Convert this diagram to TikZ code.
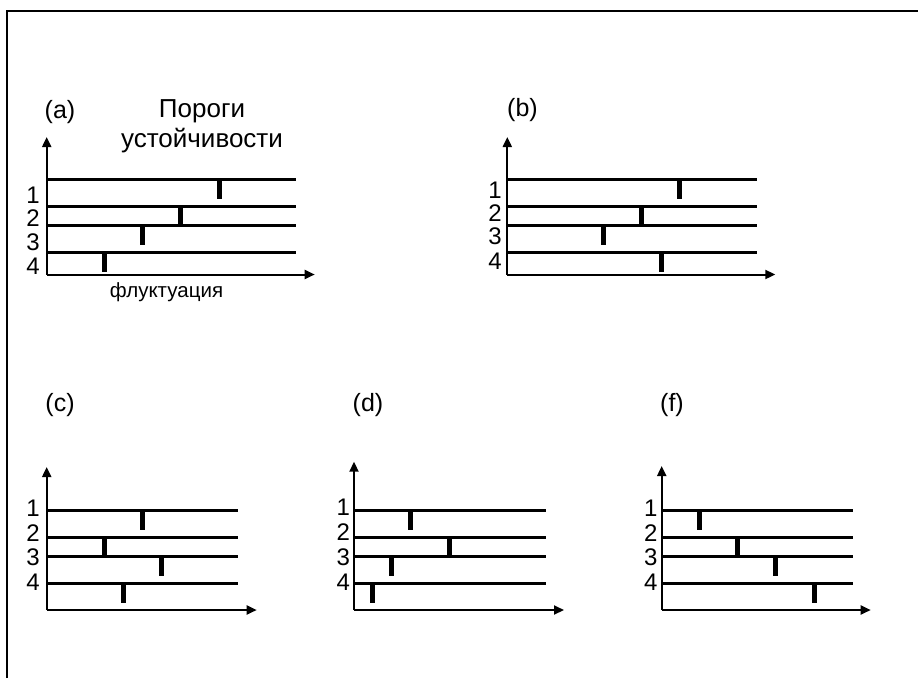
\documentclass[tikz,border=0pt]{standalone}
\usepackage{fontspec}
\setmainfont{Liberation Sans}
\usetikzlibrary{arrows.meta}
\tikzset{
  frameline/.style={line width=2.3pt, line cap=butt},
  axisline/.style={line width=2pt, -{Triangle[length=10pt,width=9pt]}},
  levelline/.style={line width=2.7pt},
  thrbar/.style={line width=5pt, line cap=butt},
  numlbl/.style={font=\fontsize{24}{26}\selectfont, inner sep=0pt},
  ttl/.style={font=\fontsize{25}{29.7}\selectfont, inner sep=0pt, align=center},
  bigttl/.style={font=\fontsize{26}{29.7}\selectfont, inner sep=0pt, align=center},
  small/.style={font=\fontsize{20.5}{24}\selectfont, inner sep=0pt}
}
% #1 prefix, #2 X0, #3 y of axis top, #4 y of x axis, #5 level length,
% #6 x-axis length, #7 list level-y/bar-offset, #8 label x, #9 label ys
\newcommand{\drawpanel}[9]{%
  \coordinate (#1o) at (#2,#4);
  \coordinate (#1top) at (#2,#3);
  \coordinate (#1right) at (#2+#6,#4);
  \draw[axisline] (#1o) -- (#1top);
  \draw[axisline] (#1o) -- (#1right);
  \foreach \ly/\tx [count=\i] in {#7} {
    \coordinate (#1s\i) at (#2,\ly);
    \coordinate (#1e\i) at (#2+#5,\ly);
    \coordinate (#1t\i) at (#2+\tx,\ly);
    \coordinate (#1u\i) at (#2+\tx,\ly+19.5);
    \draw[levelline] (#1s\i) -- (#1e\i);
    \draw[thrbar] (#1t\i) -- (#1u\i);
  }
  \foreach \yy [count=\i] in {#9} {
    \node[numlbl] (#1n\i) at (#8,\yy) {\i};
  }
}
\begin{document}
\begin{tikzpicture}[x=1pt,y=-1pt]
\useasboundingbox (0,0) rectangle (918,678);
% frame (only top and left sides visible)
\coordinate (fbl) at (7.3,678);
\coordinate (ftl) at (7.3,11);
\coordinate (ftr) at (918,11);
\draw[frameline] (fbl) -- (ftl) -- (ftr);

% panel (a)
\drawpanel{a}{46.7}{137}{274.5}{249.5}{268}
  {179.3/172.5, 206.7/134.2, 225.7/95.9, 252.7/57.6}{33}{195,218,242,266}
\node[ttl] (alab) at (60,112) {(a)};
\node[bigttl] (title) at (202,126) {Пороги\\устойчивости};
\node[small] (fluct) at (166.5,292) {флуктуация};

% panel (b)
\drawpanel{b}{507.3}{137}{274.5}{249.5}{268}
  {179.3/172.5, 206.7/134.2, 225.7/95.9, 252.7/153.7}{495}{190,213,236,261}
\node[ttl] (blab) at (522.5,110) {(b)};

% panel (c)
\drawpanel{c}{46.7}{467}{610}{191.5}{210}
  {510.7/95.6, 537.3/57.3, 556.7/115, 583.3/76.6}{33}{508,533,557,582}
\node[ttl] (clab) at (60,405) {(c)};

% panel (d)
\drawpanel{d}{354}{461.7}{610}{192}{210}
  {510.7/56.7, 537.3/95.3, 556.7/37.7, 583.3/18.7}{343.3}{507,532.5,557,582}
\node[ttl] (dlab) at (368,405) {(d)};

% panel (f)
\drawpanel{f}{661.7}{466}{610}{191}{209}
  {510.7/37.3, 537.3/75.6, 556.7/114, 583.3/152.6}{650.7}{508,533,557,582}
\node[ttl] (flab) at (672,405) {(f)};
\end{tikzpicture}
\end{document}
